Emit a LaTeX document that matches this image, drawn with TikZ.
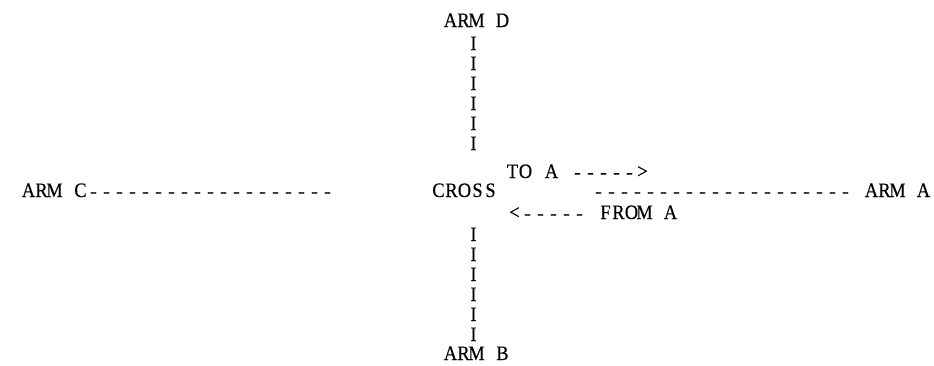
\documentclass[tikz,border=0pt]{standalone}
\usepackage{graphicx}
\usepackage{fontspec}
\setmainfont{Liberation Serif}[FakeStretch=0.9, FakeBold=0.4]
% fixed-pitch text: every character sits centred in a cell of equal width,
% hyphens are stretched slightly so that they read as dashes
\newlength\cellwd
\setlength\cellwd{13pt}
\def\monotext#1{\monoloop#1\relax}
\def\monoloop#1{%
  \ifx#1\relax
  \else
    \ifx#1-\makebox[\cellwd][c]{\scalebox{1.1}[0.85]{-}}%
    \else\makebox[\cellwd][c]{#1}%
    \fi
    \expandafter\monoloop
  \fi}
\tikzset{
  txt/.style={font=\fontsize{20.5}{24}\selectfont, inner sep=0pt, outer sep=0pt, anchor=base west},
  bar/.style={txt, anchor=base}
}
\begin{document}
\begin{tikzpicture}[x=1pt, y=-1pt]
  \fill[white] (0,0) rectangle (934,365);
  \useasboundingbox (0,0) rectangle (934,365);
  % north arm
  \node[txt] (armD) at (444,27) {\monotext{ARM~D}};
  \foreach \k in {1,...,6}
    \node[bar] (up\k) at (473.5,{30+20*\k}) {I};
  % centre row with the two traffic directions of arm A
  \node[txt] (toA) at (506,178) {\monotext{TO~A~----->}};
  \node[txt] (armC) at (22,197) {\monotext{ARM~C-------------------}};
  \node[txt] (cross) at (432,197) {\monotext{CROSS}};
  \node[txt] (armA) at (592,197) {\monotext{--------------------~ARM~A}};
  \node[txt] (fromA) at (508,219) {\monotext{<-----~FROM~A}};
  % south arm
  \foreach \k in {1,...,6}
    \node[bar] (down\k) at (473.5,{221+20*\k}) {I};
  \node[txt] (armB) at (444,360) {\monotext{ARM~B}};
\end{tikzpicture}
\end{document}
